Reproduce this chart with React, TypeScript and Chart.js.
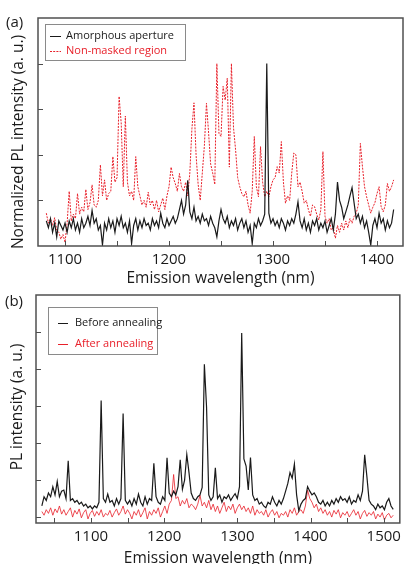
import React, { useEffect, useRef } from 'react';
import { Chart, registerables } from 'chart.js';

Chart.register(...registerables);

const FONT = '"Open Sans", "DejaVu Sans", sans-serif';
const RED = '#e8202a';
const INK = '#1a1a1a';

// ---------- Panel (a) ----------
const A_START = 1082;
const A_STEP = 2;
const A_X_MIN = 1074;
const A_X_MAX = 1425;
const A_X_TICKS = [1100, 1150, 1200, 1250, 1300, 1350, 1400];
const A_Y_MIN = 0;
const A_Y_MAX = 5;
const A_Y_TICKS = [1, 2, 3, 4];
const A_LABELS = ['Amorphous aperture', 'Non-masked region'];
const A_AMORPHOUS = [
  0.55, 0.4, 0.6, 0.3, 0.5, 0.2, 0.55, 0.45, 0.35, 0.5,
  0.3, 0.55, 0.4, 0.6, 0.35, 0.5, 0.3, 0.6, 0.4, 0.5,
  0.65, 0.45, 0.78, 0.5, 0.6, 0.35, 0.45, 0.02, 0.5, 0.35,
  0.6, 0.4, 0.55, 0.3, 0.6, 0.45, 0.65, 0.4, 0.5, 0.3,
  0.55, 0.05, 0.45, 0.6, 0.35, 0.55, 0.4, 0.6, 0.45, 0.5,
  0.35, 0.6, 0.45, 0.55, 0.4, 0.72, 0.5, 0.4, 0.6, 0.45,
  0.55, 0.65, 0.5, 0.6, 0.8, 1.0, 0.7, 0.9, 1.44, 0.75,
  0.6, 0.85, 0.55, 0.65, 0.5, 0.7, 0.55, 0.6, 0.45, 0.65,
  0.5, 0.4, 0.2, 0.55, 0.8, 0.6, 0.5, 0.65, 0.4, 0.55,
  0.45, 0.6, 0.35, 0.5, 0.6, 0.4, 0.55, 0.3, 0.45, 0.05,
  0.5, 0.4, 0.6, 0.45, 0.55, 0.7, 4.0, 0.72, 0.5, 0.6,
  0.45, 0.55, 0.4, 0.6, 0.5, 0.35, 0.55, 0.45, 0.6, 0.5,
  0.7, 0.97, 0.55, 0.4, 0.6, 0.35, 0.5, 0.3, 0.55, 0.45,
  0.6, 0.35, 0.5, 0.4, 0.55, 0.3, 0.45, 0.6, 0.35, 0.7,
  1.4, 1.0, 0.85, 0.6, 0.75, 0.9, 1.1, 1.28, 0.94, 0.6,
  0.7, 0.5, 0.65, 0.4, 0.55, 0.3, 0.02, 0.45, 0.6, 0.4,
  0.72, 0.5, 0.6, 0.35, 0.55, 0.4, 0.5, 0.8,
];
const A_NONMASKED = [
  0.72, 0.5, 0.6, 0.45, 0.62, 0.35, 0.3, 0.15, 0.25, 0.08,
  0.5, 1.2, 0.55, 0.7, 0.6, 1.15, 0.7, 0.85, 0.75, 1.24,
  0.8, 0.95, 1.34, 0.9, 0.85, 1.0, 1.78, 1.1, 1.45, 1.0,
  1.15, 1.2, 1.96, 1.4, 1.5, 3.28, 2.7, 1.3, 2.85, 1.4,
  1.1, 1.2, 1.0, 1.96, 1.3, 1.1, 0.9, 1.0, 0.85, 1.18,
  0.9, 1.0, 0.8, 1.0, 0.75, 0.9, 1.05, 0.8, 1.1, 1.3,
  1.73, 1.5, 1.37, 1.2, 1.59, 1.3, 1.2, 1.4, 1.1, 1.6,
  2.57, 3.14, 2.0, 1.35, 1.0, 1.6, 2.2, 3.13, 2.5, 1.8,
  1.6, 1.35, 4.0, 2.47, 2.4, 3.5, 3.2, 3.68, 1.73, 4.0,
  2.6, 2.11, 1.5, 1.3, 1.15, 1.08, 1.2, 0.9, 0.72, 1.2,
  2.4, 1.3, 1.08, 2.18, 1.4, 1.08, 1.2, 1.08, 1.3, 1.45,
  1.5, 1.74, 1.6, 2.29, 1.4, 0.94, 1.1, 1.0, 1.6, 2.04,
  2.0, 1.3, 1.4, 1.2, 0.94, 1.0, 0.8, 0.65, 0.9, 0.86,
  0.7, 0.57, 0.8, 2.07, 0.65, 0.5, 0.6, 0.35, 0.4, 0.17,
  0.45, 0.3, 0.5, 0.35, 0.55, 0.4, 0.6, 0.5, 0.65, 0.72,
  0.9, 2.25, 1.74, 1.3, 1.08, 0.9, 0.72, 0.85, 0.95, 1.15,
  1.3, 0.86, 0.75, 0.9, 1.37, 1.2, 1.3, 1.45,
];

// ---------- Panel (b) ----------
const B_START = 1033;
const B_STEP = 3;
const B_X_MIN = 1025;
const B_X_MAX = 1522;
const B_X_TICKS = [1050, 1100, 1150, 1200, 1250, 1300, 1350, 1400, 1450, 1500];
const B_Y_MIN = -0.16;
const B_Y_MAX = 6;
const B_Y_TICKS = [0, 1, 2, 3, 4, 5];
const B_LABELS = ['Before annealing', 'After annealing'];
const B_BEFORE = [
  0.3, 0.55, 0.45, 0.65, 0.55, 0.82, 0.6, 0.96, 0.55, 0.7,
  0.73, 0.5, 1.52, 0.45, 0.5, 0.4, 0.45, 0.35, 0.4, 0.3,
  0.35, 0.25, 0.3, 0.22, 0.3, 0.25, 0.4, 3.15, 0.5, 0.4,
  0.62, 0.4, 0.45, 0.3, 0.5, 0.35, 0.5, 2.8, 0.45, 0.35,
  0.45, 0.3, 0.5, 0.35, 0.62, 0.4, 0.3, 0.55, 0.35, 0.5,
  0.45, 1.45, 0.55, 0.4, 0.35, 0.55, 0.45, 1.6, 0.65, 0.55,
  0.7, 0.6, 0.82, 1.55, 0.75, 1.0, 1.69, 1.2, 0.65, 0.5,
  0.45, 0.55, 0.6, 0.8, 4.13, 2.97, 0.6, 0.45, 0.55, 1.33,
  0.5, 0.6, 0.4, 0.55, 0.5, 0.6, 0.45, 0.55, 0.63, 0.5,
  0.82, 4.97, 1.57, 1.38, 0.73, 1.61, 0.6, 0.45, 0.5, 0.35,
  0.4, 0.3, 0.25, 0.4, 0.35, 0.55, 0.4, 0.3, 0.45, 0.35,
  0.5, 0.7, 0.91, 1.2, 1.05, 1.43, 0.6, 0.17, 0.35, 0.45,
  0.5, 0.82, 0.7, 0.6, 0.65, 0.55, 0.4, 0.35, 0.45, 0.3,
  0.4, 0.3, 0.45, 0.35, 0.5, 0.4, 0.55, 0.45, 0.5, 0.4,
  0.55, 0.35, 0.45, 0.4, 0.6, 0.45, 0.7, 1.68, 1.1, 0.45,
  0.35, 0.3, 0.2, 0.35, 0.25, 0.3, 0.2, 0.4, 0.5, 0.3,
  0.21,
];
const B_AFTER = [
  0.15, 0.05, 0.2, 0.1, 0.25, 0.05, 0.22, 0.12, 0.3, 0.08,
  0.2, 0.05, 0.15, 0.25, 0.0, 0.18, 0.08, 0.22, -0.02, 0.12,
  0.2, -0.05, 0.1, 0.18, 0.02, 0.15, 0.05, 0.2, 0.0, 0.1,
  0.05, 0.18, 0.0, 0.12, 0.22, 0.05, 0.15, 0.3, 0.08, 0.2,
  0.1, -0.05, 0.15, 0.05, 0.2, 0.0, 0.12, 0.25, -0.05, 0.15,
  0.05, 0.2, 0.1, 0.25, 0.0, 0.15, 0.3, 0.1, 0.35, 0.45,
  1.15, 0.5, 0.55, 0.3, 0.45, 0.35, 0.5, 0.25, 0.35, 0.3,
  0.2, 0.35, 0.59, 0.3, 0.4, 0.25, 0.45, 0.2, 0.35, 0.15,
  0.3, 0.1, 0.25, 0.4, 0.15, 0.3, 0.2, 0.35, 0.1, 0.25,
  0.35, 0.2, 0.3, 0.15, 0.25, 0.1, 0.3, 0.05, 0.2, 0.1,
  0.15, 0.05, 0.2, 0.0, 0.12, 0.2, 0.05, 0.15, -0.02, 0.1,
  0.05, 0.15, 0.0, 0.2, 0.1, 0.25, 0.05, 0.15, 0.2, 0.1,
  0.3, 0.73, 0.5, 0.4, 0.25, 0.35, 0.15, 0.25, 0.1, 0.2,
  0.05, 0.15, 0.0, 0.18, 0.08, 0.2, -0.02, 0.12, 0.05, 0.15,
  0.0, 0.1, 0.2, 0.05, 0.15, -0.05, 0.1, 0.18, 0.02, 0.12,
  0.05, 0.15, -0.05, 0.08, 0.0, 0.12, -0.08, 0.05, 0.1, -0.02,
  0.05,
];

const X_TITLE = 'Emission wavelength (nm)';
const A_Y_TITLE = 'Normalized PL intensity (a. u.)';
const B_Y_TITLE = 'PL intensity (a. u.)';

const W = 406;

type Series = { label: string; values: number[]; color: string; width: number; dash: number[] };
type Spec = {
  height: number;
  area: { left: number; top: number; right: number; bottom: number };
  start: number;
  step: number;
  xMin: number;
  xMax: number;
  xTicks: number[];
  yMin: number;
  yMax: number;
  yTicks: number[];
  yTitle: string;
  yTitleX: number;
  yTitleShift: number;
  tickPad: number;
  xTitlePad: number;
  series: Series[];
  panel: string;
  panelPos: { x: number; y: number };
  legend: { x: number; y: number; w: number; h: number; rows: number[]; sx0: number; sx1: number; tx: number };
};

function decorPlugin(spec: Spec) {
  return {
    id: 'panelDecor',
    afterDraw(chart: any) {
      const { ctx, chartArea: ca, scales } = chart;
      ctx.save();
      // inward tick marks
      ctx.strokeStyle = '#4d4d4d';
      ctx.lineWidth = 1;
      ctx.beginPath();
      for (const t of scales.x.ticks) {
        const px = Math.round(scales.x.getPixelForValue(t.value)) + 0.5;
        ctx.moveTo(px, ca.bottom);
        ctx.lineTo(px, ca.bottom - 5);
      }
      for (const t of scales.y.ticks) {
        const py = Math.round(scales.y.getPixelForValue(t.value)) + 0.5;
        ctx.moveTo(ca.left, py);
        ctx.lineTo(ca.left + 5, py);
      }
      ctx.stroke();
      // frame
      ctx.strokeStyle = '#505050';
      ctx.lineWidth = 1.5;
      ctx.strokeRect(ca.left, ca.top, ca.right - ca.left, ca.bottom - ca.top);
      // y-axis title
      ctx.save();
      ctx.translate(spec.yTitleX, (ca.top + ca.bottom) / 2 + spec.yTitleShift);
      ctx.rotate(-Math.PI / 2);
      ctx.fillStyle = INK;
      ctx.font = `15.5px ${FONT}`;
      ctx.textAlign = 'center';
      ctx.textBaseline = 'middle';
      ctx.fillText(spec.yTitle, 0, 0);
      ctx.restore();
      // legend
      const lg = spec.legend;
      ctx.fillStyle = '#ffffff';
      ctx.fillRect(lg.x, lg.y, lg.w, lg.h);
      ctx.strokeStyle = '#8a8a8a';
      ctx.lineWidth = 1;
      ctx.strokeRect(lg.x + 0.5, lg.y + 0.5, lg.w, lg.h);
      ctx.font = `11px ${FONT}`;
      ctx.textBaseline = 'middle';
      ctx.textAlign = 'left';
      chart.data.datasets.forEach((ds: any, i: number) => {
        const y = lg.rows[i];
        ctx.strokeStyle = ds.borderColor;
        ctx.lineWidth = 1;
        ctx.setLineDash(ds.borderDash || []);
        ctx.beginPath();
        ctx.moveTo(lg.sx0, y + 0.5);
        ctx.lineTo(lg.sx1, y + 0.5);
        ctx.stroke();
        ctx.setLineDash([]);
        ctx.fillStyle = ds.borderColor === RED ? RED : INK;
        ctx.fillText(ds.label, lg.tx, y);
      });
      // panel label
      ctx.fillStyle = INK;
      ctx.font = `15px ${FONT}`;
      ctx.fillText(spec.panel, spec.panelPos.x, spec.panelPos.y);
      ctx.restore();
    },
  };
}

function buildChart(canvas: HTMLCanvasElement, spec: Spec) {
  const xs = spec.series[0].values.map((_, i) => spec.start + i * spec.step);
  return new Chart(canvas, {
    type: 'line',
    data: {
      datasets: spec.series.map((s) => ({
        label: s.label,
        data: xs.map((x, i) => ({ x, y: s.values[i] })),
        borderColor: s.color,
        borderWidth: s.width,
        borderDash: s.dash,
        pointRadius: 0,
        tension: 0,
        fill: false,
      })),
    },
    options: {
      responsive: false,
      animation: false,
      devicePixelRatio: 1,
      layout: { padding: { left: 0, right: W - spec.area.right, top: spec.area.top, bottom: 0 } },
      plugins: { legend: { display: false }, tooltip: { enabled: false } },
      scales: {
        x: {
          type: 'linear',
          min: spec.xMin,
          max: spec.xMax,
          grid: { display: false, drawTicks: false },
          border: { display: false },
          afterBuildTicks: (s: any) => {
            s.ticks = spec.xTicks.map((v) => ({ value: v }));
          },
          ticks: {
            autoSkip: false,
            maxRotation: 0,
            padding: spec.tickPad,
            color: INK,
            font: { family: FONT, size: 15 },
            callback: (v: any) => (Number(v) % 100 === 0 ? String(v) : ''),
          },
          title: {
            display: true,
            text: X_TITLE,
            color: INK,
            font: { family: FONT, size: 15.5 },
            padding: { top: 0, bottom: spec.xTitlePad },
          },
          afterFit: (s: any) => {
            s.height = spec.height - spec.area.bottom;
          },
        },
        y: {
          type: 'linear',
          min: spec.yMin,
          max: spec.yMax,
          grid: { display: false, drawTicks: false },
          border: { display: false },
          afterBuildTicks: (s: any) => {
            s.ticks = spec.yTicks.map((v) => ({ value: v }));
          },
          ticks: { display: false },
          title: { display: false },
          afterFit: (s: any) => {
            s.width = spec.area.left;
          },
        },
      },
    } as any,
    plugins: [decorPlugin(spec)],
  });
}

const SPEC_A: Spec = {
  height: 290,
  area: { left: 38, top: 18, right: 403, bottom: 246 },
  start: A_START,
  step: A_STEP,
  xMin: A_X_MIN,
  xMax: A_X_MAX,
  xTicks: A_X_TICKS,
  yMin: A_Y_MIN,
  yMax: A_Y_MAX,
  yTicks: A_Y_TICKS,
  yTitle: A_Y_TITLE,
  yTitleX: 19,
  yTitleShift: 10,
  tickPad: 5,
  xTitlePad: 1.7,
  series: [
    { label: A_LABELS[0], values: A_AMORPHOUS, color: INK, width: 1.2, dash: [] },
    { label: A_LABELS[1], values: A_NONMASKED, color: RED, width: 1, dash: [2, 1.2] },
  ],
  panel: '(a)',
  panelPos: { x: 6, y: 23 },
  legend: { x: 45, y: 24, w: 140, h: 36, rows: [36, 51], sx0: 50, sx1: 61, tx: 66 },
};

const SPEC_B: Spec = {
  height: 300,
  area: { left: 36, top: 13, right: 403, bottom: 241 },
  start: B_START,
  step: B_STEP,
  xMin: B_X_MIN,
  xMax: B_X_MAX,
  xTicks: B_X_TICKS,
  yMin: B_Y_MIN,
  yMax: B_Y_MAX,
  yTicks: B_Y_TICKS,
  yTitle: B_Y_TITLE,
  yTitleX: 18,
  yTitleShift: -2,
  tickPad: 5,
  xTitlePad: 13.7,
  series: [
    { label: B_LABELS[0], values: B_BEFORE, color: INK, width: 1.2, dash: [] },
    { label: B_LABELS[1], values: B_AFTER, color: RED, width: 0.8, dash: [] },
  ],
  panel: '(b)',
  panelPos: { x: 5, y: 20 },
  legend: { x: 48, y: 25, w: 109, h: 47, rows: [41, 62], sx0: 58, sx1: 68, tx: 75 },
};

export default function App() {
  const refA = useRef<HTMLCanvasElement | null>(null);
  const refB = useRef<HTMLCanvasElement | null>(null);

  useEffect(() => {
    const charts: Chart[] = [];
    if (refA.current) charts.push(buildChart(refA.current, SPEC_A));
    if (refB.current) charts.push(buildChart(refB.current, SPEC_B));
    return () => charts.forEach((c) => c.destroy());
  }, []);

  return (
    <div style={{ position: 'absolute', left: 0, top: 0, width: W, height: 564, overflow: 'hidden', background: '#fff' }}>
      <canvas ref={refA} width={W} height={290} style={{ position: 'absolute', left: 0, top: 0, width: W, height: 290 }} />
      <canvas ref={refB} width={W} height={300} style={{ position: 'absolute', left: 0, top: 282, width: W, height: 300 }} />
    </div>
  );
}
